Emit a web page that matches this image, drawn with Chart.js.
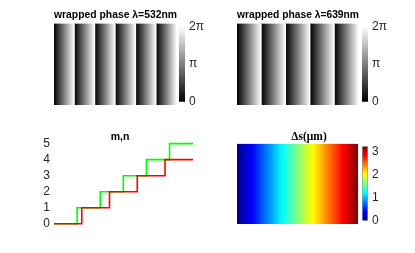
<!DOCTYPE html>
<html>
<head>
<meta charset="utf-8">
<script src="https://cdn.jsdelivr.net/npm/chart.js@4"></script>
<style>
  html, body { margin: 0; padding: 0; background: #fff; }
  body { width: 415px; height: 253px; position: relative; overflow: hidden; }
  canvas { position: absolute; }
</style>
</head>
<body>
<canvas id="phase532" width="123" height="96" style="left:54px;top:9px"></canvas>
<canvas id="bar532" width="28" height="98" style="left:179px;top:15px"></canvas>
<canvas id="phase639" width="122" height="96" style="left:237px;top:9px"></canvas>
<canvas id="bar639" width="28" height="98" style="left:362px;top:15px"></canvas>
<canvas id="steps" width="180" height="104" style="left:30px;top:131px"></canvas>
<canvas id="dsImage" width="144" height="94" style="left:237px;top:130px"></canvas>
<canvas id="dsBar" width="26" height="97" style="left:362px;top:135px"></canvas>
<script>
// optical path axis (um), shared by all panels
const sMax = 3.2;

// wrap points of the phase for each wavelength (um)
const wrap532 = [0, 0.532, 1.064, 1.596, 2.128, 2.66, 3.2];
const wrap639 = [0, 0.639, 1.278, 1.917, 2.556, 3.2];

// phase colorbar
const phaseMax = 6.2832;
const phaseTicks = [0, 3.1416, 6.2832];
const phaseLabels = ['0', 'π', '2π'];

// fringe orders m (532nm) and n (639nm)
const mX = [0, 0.532, 1.064, 1.596, 2.128, 2.66, 3.2];
const mY = [0, 1, 2, 3, 4, 5, 5];
const nX = [0, 0.639, 1.278, 1.917, 2.556, 3.2];
const nY = [0, 1, 2, 3, 4, 4];
const mnTicks = [0, 1, 2, 3, 4, 5];

// delta s image and its colorbar
const dsRange = [0, 3.2];
const dsMax = 3.24;
const dsTicks = [0, 1, 2, 3];

const grayStops = [[0, '#000'], [1, '#fff']];
const jetStops = [[0, '#000080'], [0.125, '#0000ff'], [0.375, '#00ffff'],
                  [0.625, '#ffff00'], [0.875, '#ff0000'], [1, '#800000']];

const tickColor = '#262626';
const noPlugins = { legend: { display: false }, tooltip: { enabled: false } };

function gradient(ctx, x0, y0, x1, y1, stops) {
    if (![x0, y0, x1, y1].every(Number.isFinite) || (x0 === x1 && y0 === y1)) return '#888';
    const g = ctx.createLinearGradient(x0, y0, x1, y1);
    stops.forEach(s => g.addColorStop(s[0], s[1]));
    return g;
}

// empty axis on the right, only there to widen the title box
function spacer(w) {
    return {
        type: 'linear', position: 'right', display: true,
        grid: { display: false, drawTicks: false },
        border: { display: false },
        ticks: { display: false },
        afterFit: s => { s.width = w; }
    };
}

function phaseImage(id, wraps, lambda, title) {
    const stripes = wraps.slice(0, -1).map((w, i) => [w, wraps[i + 1]]);
    new Chart(document.getElementById(id), {
        type: 'bar',
        data: {
            labels: ['row'],
            datasets: stripes.map(st => ({
                data: [st],
                grouped: false,
                barPercentage: 1,
                categoryPercentage: 1,
                borderWidth: 0,
                backgroundColor: c => {
                    const sx = c.chart.scales.x;
                    if (!sx) return '#888';
                    const x0 = sx.getPixelForValue(st[0]);
                    const x1 = sx.getPixelForValue(st[0] + lambda);
                    return gradient(c.chart.ctx, x0, 0, x1, 0, grayStops);
                }
            }))
        },
        options: {
            indexAxis: 'y',
            responsive: false,
            animation: false,
            layout: { padding: 0 },
            scales: {
                x: { type: 'linear', min: 0, max: sMax, display: false },
                y: { display: false }
            },
            plugins: {
                ...noPlugins,
                title: {
                    display: true, text: title, color: '#000',
                    font: { family: 'Liberation Sans', size: 10.5, weight: 'bold' },
                    padding: { top: 0, bottom: 2 }
                }
            }
        }
    });
}

function colorbar(id, max, ticks, labels, stops, border) {
    new Chart(document.getElementById(id), {
        type: 'bar',
        data: {
            labels: ['cb'],
            datasets: [{
                data: [[0, max]],
                barPercentage: 1,
                categoryPercentage: 1,
                borderWidth: border ? 1 : 0,
                borderSkipped: false,
                borderColor: '#9a9a9a',
                backgroundColor: c => {
                    const area = c.chart.chartArea;
                    if (!area) return '#888';
                    return gradient(c.chart.ctx, 0, area.bottom, 0, area.top, stops);
                }
            }]
        },
        options: {
            responsive: false,
            animation: false,
            layout: { padding: { top: 8, bottom: 8, left: 0, right: 0 } },
            scales: {
                x: { display: false },
                y: {
                    type: 'linear', position: 'right', min: 0, max: max,
                    grid: { display: false, drawTicks: false },
                    border: { display: false },
                    afterBuildTicks: s => { s.ticks = ticks.map(v => ({ value: v })); },
                    afterFit: s => { s.width = id === 'dsBar' ? 20 : 22; },
                    ticks: {
                        padding: 4, color: tickColor, autoSkip: false,
                        font: { family: 'Liberation Sans', size: 12 },
                        callback: (v, i) => labels[i]
                    }
                }
            },
            plugins: noPlugins
        }
    });
}

phaseImage('phase532', wrap532, 0.532, 'wrapped phase λ=532nm');
phaseImage('phase639', wrap639, 0.639, 'wrapped phase λ=639nm');
colorbar('bar532', phaseMax, phaseTicks, phaseLabels, grayStops, false);
colorbar('bar639', phaseMax, phaseTicks, phaseLabels, grayStops, false);

// m,n steps; red listed first so it is drawn on top
new Chart(document.getElementById('steps'), {
    type: 'line',
    data: {
        datasets: [
            { data: nX.map((x, i) => ({ x: x, y: nY[i] })), borderColor: '#ff0000' },
            { data: mX.map((x, i) => ({ x: x, y: mY[i] })), borderColor: '#00ff00' }
        ].map(d => Object.assign(d, { stepped: true, borderWidth: 1.6, pointRadius: 0, clip: false, fill: false }))
    },
    options: {
        responsive: false,
        animation: false,
        layout: { padding: { top: 0, bottom: 10, left: 0, right: 0 } },
        scales: {
            x: { type: 'linear', min: 0, max: sMax, display: false },
            y: {
                type: 'linear', min: 0, max: 5,
                grid: { display: false, drawTicks: false },
                border: { display: false },
                afterBuildTicks: s => { s.ticks = mnTicks.map(v => ({ value: v })); },
                afterFit: s => { s.width = 24; },
                ticks: { padding: 4, autoSkip: false, color: tickColor, font: { family: 'Liberation Sans', size: 12 } }
            },
            y2: spacer(17)
        },
        plugins: {
            ...noPlugins,
            title: {
                display: true, text: 'm,n', color: '#000',
                font: { family: 'Liberation Sans', size: 10.5, weight: 'bold' },
                padding: { top: 0, bottom: 0 }
            }
        }
    }
});

// delta s image
new Chart(document.getElementById('dsImage'), {
    type: 'bar',
    data: {
        labels: ['row'],
        datasets: [{
            data: [dsRange],
            barPercentage: 1,
            categoryPercentage: 1,
            borderWidth: 0,
            backgroundColor: c => {
                const sx = c.chart.scales.x;
                if (!sx) return '#888';
                return gradient(c.chart.ctx, sx.getPixelForValue(0), 0, sx.getPixelForValue(sMax), 0, jetStops);
            }
        }]
    },
    options: {
        indexAxis: 'y',
        responsive: false,
        animation: false,
        layout: { padding: 0 },
        scales: {
            x: { type: 'linear', min: 0, max: sMax, display: false },
            y: { display: false },
            x2: Object.assign(spacer(23), { axis: 'y' })
        },
        plugins: {
            ...noPlugins,
            title: {
                display: true, text: 'Δs(μm)', color: '#000',
                font: { family: 'Liberation Serif', size: 11.5, weight: 'bold' },
                padding: { top: 0, bottom: 0 }
            }
        }
    }
});

colorbar('dsBar', dsMax, dsTicks, dsTicks.map(String), jetStops, true);
</script>
</body>
</html>
